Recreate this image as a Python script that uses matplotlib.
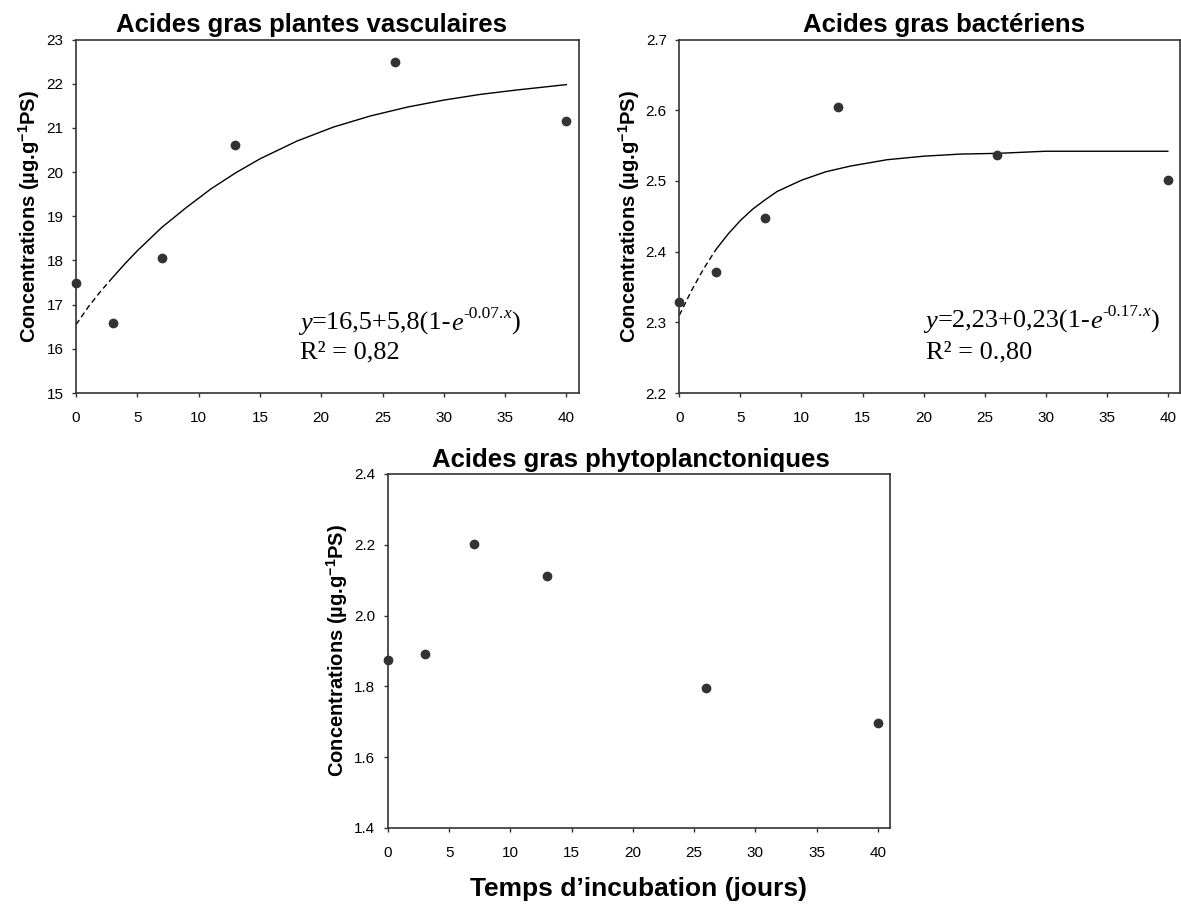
import matplotlib
matplotlib.use("Agg")
import matplotlib.pyplot as plt

# ---------------- data ----------------
days = [0, 3, 7, 13, 26, 40]

vasc_values = [17.5, 16.58, 18.05, 20.62, 22.5, 21.15]
bact_values = [2.329, 2.371, 2.448, 2.605, 2.537, 2.502]
phyto_values = [1.874, 1.891, 2.202, 2.111, 1.795, 1.696]

# fitted curves
vasc_fit_x = [0, 1, 2, 3, 4, 5, 7, 9, 11, 13, 15, 18, 21, 24, 27, 30, 33, 36, 40]
vasc_fit_y = [16.55, 16.95, 17.3, 17.62, 17.93, 18.22, 18.75, 19.2, 19.62, 19.98,
              20.3, 20.7, 21.02, 21.27, 21.47, 21.63, 21.76, 21.86, 21.98]
bact_fit_x = [0, 1, 2, 3, 4, 5, 6, 7, 8, 10, 12, 14, 17, 20, 23, 26, 30, 40]
bact_fit_y = [2.31, 2.345, 2.376, 2.403, 2.425, 2.444, 2.46, 2.473, 2.485, 2.501,
              2.513, 2.521, 2.53, 2.535, 2.538, 2.539, 2.542, 2.542]

titles = ["Acides gras plantes vasculaires", "Acides gras bactériens",
          "Acides gras phytoplanctoniques"]
ylabel = r"Concentrations (µg.g$^{\mathbf{-1}}$PS)"
xlabel = "Temps d\u2019incubation (jours)"

x_ticks = [0, 5, 10, 15, 20, 25, 30, 35, 40]
vasc_yticks = [15, 16, 17, 18, 19, 20, 21, 22, 23]
bact_yticks = [2.2, 2.3, 2.4, 2.5, 2.6, 2.7]
phyto_yticks = [1.4, 1.6, 1.8, 2.0, 2.2, 2.4]

eq1 = [("y", "italic"), ("=16,5+5,8(1-", "normal"), ("e", "italic"),
       ("-0.07.", "sup"), ("x", "supit"), (")", "normal")]
r2_1 = "R\u00b2 = 0,82"
eq2 = [("y", "italic"), ("=2,23+0,23(1-", "normal"), ("e", "italic"),
       ("-0.17.", "sup"), ("x", "supit"), (")", "normal")]
r2_2 = "R\u00b2 = 0.,80"

# ---------------- style ----------------
plt.rcParams["font.family"] = ["Liberation Sans", "DejaVu Sans"]
plt.rcParams["mathtext.fontset"] = "custom"
plt.rcParams["mathtext.rm"] = "Liberation Sans"
plt.rcParams["mathtext.bf"] = "Liberation Sans:bold"
plt.rcParams["mathtext.it"] = "Liberation Sans:italic"

SPINE = "#333333"
DOT = "#333333"
EQ_SIZE = 19
TITLE_SIZE = 18.5

fig = plt.figure(figsize=(11.81, 9.05), dpi=100)
ax1 = fig.add_axes([0.0644, 0.5657, 0.4256, 0.3906])
ax2 = fig.add_axes([0.5752, 0.5657, 0.4240, 0.3906])
ax3 = fig.add_axes([0.3285, 0.0851, 0.4251, 0.3912])


def style_axes(ax, yticks, fmt):
    ax.set_xlim(0, 41)
    ax.set_ylim(yticks[0], yticks[-1])
    ax.set_xticks(x_ticks)
    ax.set_yticks(yticks)
    ax.set_yticklabels([fmt.format(v) for v in yticks])
    for s in ax.spines.values():
        s.set_color(SPINE)
        s.set_linewidth(1.2)
    ax.tick_params(axis="both", direction="out", length=3, width=1,
                   color=SPINE, labelsize=11, top=False, right=False)
    ax.tick_params(axis="x", pad=10)
    ax.tick_params(axis="y", pad=6)
    ax.set_ylabel(ylabel, fontsize=14.5, fontweight="bold", labelpad=3)


def rich_text(ax, x, y, pieces, size=EQ_SIZE):
    base_kw = dict(family="Liberation Serif", fontsize=size, color="black")
    first_txt, first_style = pieces[0]
    t = ax.text(x, y, first_txt, transform=ax.transAxes, va="baseline",
                ha="left", fontstyle="italic", **base_kw)
    prev = t
    last_base = t
    for txt, st in pieces[1:]:
        if st in ("normal", "italic"):
            a = ax.annotate(txt, xy=(1, 0), xycoords=(prev, last_base),
                            va="bottom", ha="left",
                            fontstyle="italic" if st == "italic" else "normal",
                            **base_kw)
            last_base = a
        else:
            kw = dict(base_kw)
            kw["fontsize"] = size * 0.66
            if prev is last_base:
                xy, coords = (1, 0.58), prev
            else:
                xy, coords = (1, 0), prev
            a = ax.annotate(txt, xy=xy, xycoords=coords, va="bottom", ha="left",
                            fontstyle="italic" if st == "supit" else "normal", **kw)
        prev = a


# ---- panel 1
style_axes(ax1, vasc_yticks, "{:g}")
n = vasc_fit_x.index(3)
ax1.plot(vasc_fit_x[:n + 1], vasc_fit_y[:n + 1], color="black", lw=1,
         ls=(0, (4, 2.5)))
ax1.plot(vasc_fit_x[n:], vasc_fit_y[n:], color="black", lw=1)
ax1.plot(days, vasc_values, "o", color=DOT, ms=6, clip_on=False, zorder=5)
ax1.text(0.469, 1.02, titles[0], transform=ax1.transAxes, ha="center",
         va="baseline", fontsize=TITLE_SIZE, fontweight="bold")
rich_text(ax1, 0.446, 0.178, eq1)
ax1.text(0.446, 0.099, r2_1, transform=ax1.transAxes, ha="left", va="baseline",
         family="Liberation Serif", fontsize=EQ_SIZE)

# ---- panel 2
style_axes(ax2, bact_yticks, "{:.1f}")
n = bact_fit_x.index(3)
ax2.plot(bact_fit_x[:n + 1], bact_fit_y[:n + 1], color="black", lw=1,
         ls=(0, (4, 2.5)))
ax2.plot(bact_fit_x[n:], bact_fit_y[n:], color="black", lw=1)
ax2.plot(days, bact_values, "o", color=DOT, ms=6, clip_on=False, zorder=5)
ax2.text(0.528, 1.02, titles[1], transform=ax2.transAxes, ha="center",
         va="baseline", fontsize=TITLE_SIZE, fontweight="bold")
rich_text(ax2, 0.492, 0.184, eq2)
ax2.text(0.492, 0.099, r2_2, transform=ax2.transAxes, ha="left", va="baseline",
         family="Liberation Serif", fontsize=EQ_SIZE)

# ---- panel 3
style_axes(ax3, phyto_yticks, "{:.1f}")
ax3.plot(days, phyto_values, "o", color=DOT, ms=6, clip_on=False, zorder=5)
ax3.text(0.484, 1.02, titles[2], transform=ax3.transAxes, ha="center",
         va="baseline", fontsize=TITLE_SIZE, fontweight="bold")
ax3.set_xlabel(xlabel, fontsize=19, fontweight="bold", labelpad=12)

fig.savefig("out.png", dpi=100)
